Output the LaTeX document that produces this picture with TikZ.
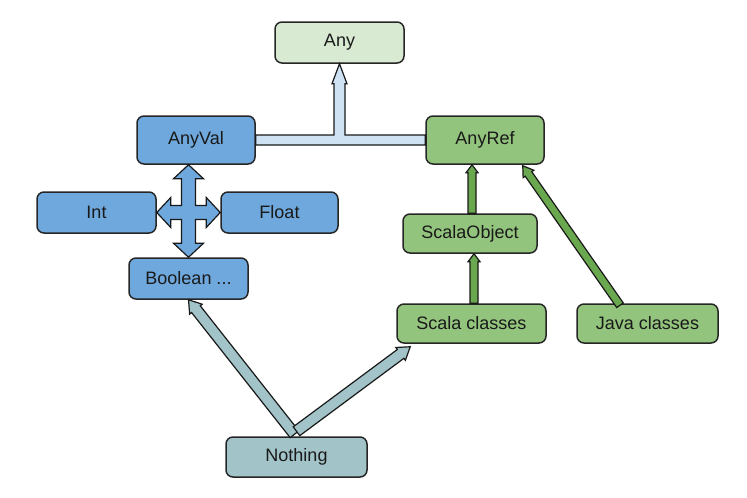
\documentclass[tikz,border=0pt]{standalone}
\usepackage{fontspec}
\setmainfont{Liberation Sans}
\usetikzlibrary{calc}
\definecolor{cblue}{HTML}{6FA8DC}
\definecolor{cgreen}{HTML}{93C47D}
\definecolor{cdgreen}{HTML}{6AA84F}
\definecolor{clgreen}{HTML}{D9EAD3}
\definecolor{clblue}{HTML}{CFE2F3}
\definecolor{ccyan}{HTML}{A2C4C9}
\newcommand\fatarrow[6]{%
  \coordinate (faC) at ($(#2)!#5!(#1)$);
  \draw[arrowline, fill=#6] ($(#1)!#3!90:(#2)$) -- ($(faC)!#3!-90:(#1)$) -- ($(faC)!#4!-90:(#1)$) -- (#2) -- ($(faC)!#4!90:(#1)$) -- ($(faC)!#3!90:(#1)$) -- ($(#1)!#3!-90:(#2)$) -- cycle;
}
\tikzset{
  box/.style={draw=black!85, line width=1.5pt, rounded corners=7pt, inner sep=0pt,
    font=\fontsize{18}{21}\selectfont, text=black!90},
  arrowline/.style={draw=black!90, line width=1.2pt, line join=miter},
}
\begin{document}
\begin{tikzpicture}[x=1pt,y=-1pt]
\useasboundingbox (0,0) rectangle (747,498);
% nodes
\node[box, fill=clgreen, minimum width=129pt, minimum height=41pt] (any) at (339.5,42.5) {Any};
\node[box, fill=cblue, minimum width=118pt, minimum height=48pt] (anyval) at (196,140) {AnyVal};
\node[box, fill=cgreen, minimum width=118pt, minimum height=48pt] (anyref) at (485,140) {AnyRef};
\node[box, fill=cblue, minimum width=119pt, minimum height=41pt] (int) at (96.5,212.5) {Int};
\node[box, fill=cblue, minimum width=117pt, minimum height=41pt] (float) at (279.5,212.5) {Float};
\node[box, fill=cblue, minimum width=119pt, minimum height=41pt] (bool) at (188.5,278.5) {Boolean ...};
\node[box, fill=cgreen, minimum width=134pt, minimum height=39pt] (scalaobj) at (470,233.5) {ScalaObject};
\node[box, fill=cgreen, minimum width=149pt, minimum height=39pt] (scalacls) at (471.5,323.5) {Scala classes};
\node[box, fill=cgreen, minimum width=141pt, minimum height=39pt] (javacls) at (647.5,323.5) {Java classes};
\node[box, fill=ccyan, minimum width=141pt, minimum height=40pt] (nothing) at (296.5,457) {Nothing};
% T connector AnyVal/AnyRef -> Any
\draw[arrowline, fill=clblue] let \p1=(anyval.east), \p2=(anyref.west), \p3=(any.south) in
  (\x1,\y1+5pt) -- (\x3-5.5pt,\y1+5pt) -- (\x3-5.5pt,\y3-20pt) -- (\x3-7.5pt,\y3-20pt) -- (\x3,\y3)
  -- (\x3+7.5pt,\y3-20pt) -- (\x3+5.5pt,\y3-20pt) -- (\x3+5.5pt,\y1+5pt) -- (\x2,\y1+5pt)
  -- (\x2,\y1-5pt) -- (\x1,\y1-5pt) -- cycle;
% four-way arrow
\draw[arrowline, fill=cblue] let \p1=(int.east), \p2=(float.west), \p3=(bool.north), \p4=(anyval.south) in
  (\x3,\y4) -- (\x3+15pt,\y4-14pt) -- (\x3+7pt,\y4-14pt) -- (\x3+7pt,\y1+7pt)
  -- (\x2-14pt,\y1+7pt) -- (\x2-14pt,\y1+15pt) -- (\x2,\y1) -- (\x2-14pt,\y1-15pt) -- (\x2-14pt,\y1-7pt)
  -- (\x3+7pt,\y1-7pt) -- (\x3+7pt,\y3+14pt) -- (\x3+15pt,\y3+14pt) -- (\x3,\y3) -- (\x3-15pt,\y3+14pt)
  -- (\x3-7pt,\y3+14pt) -- (\x3-7pt,\y1-7pt) -- (\x1+14pt,\y1-7pt) -- (\x1+14pt,\y1-15pt) -- (\x1,\y1)
  -- (\x1+14pt,\y1+15pt) -- (\x1+14pt,\y1+7pt) -- (\x3-7pt,\y1+7pt) -- (\x3-7pt,\y4-14pt)
  -- (\x3-15pt,\y4-14pt) -- cycle;
% Nothing arrows
\coordinate (nstart) at ($(nothing.north)+(-2,-2)$);
\coordinate (nstart2) at ($(nothing.north)+(0,-5)$);
\coordinate (sctip) at ($(scalacls.south west)+(14,3)$);
\fatarrow{nstart}{bool.south}{5.5pt}{8pt}{12pt}{ccyan}
\fatarrow{nstart2}{sctip}{5.5pt}{8pt}{12pt}{ccyan}
% green arrows
\coordinate (sostart) at ($(scalaobj.north)+(2,0)$);
\coordinate (sotip) at (sostart |- anyref.south);
\fatarrow{sostart}{sotip}{4pt}{6pt}{8pt}{cdgreen}
\coordinate (scstart) at ($(scalacls.north)+(2.5,0)$);
\coordinate (sctop) at (scstart |- scalaobj.south);
\fatarrow{scstart}{sctop}{4pt}{6pt}{8pt}{cdgreen}
\coordinate (jstart) at ($(javacls.north)+(-27.5,2)$);
\coordinate (jtip) at ($(anyref.south east)+(-22,1)$);
\fatarrow{jstart}{jtip}{4pt}{6.5pt}{10pt}{cdgreen}
\end{tikzpicture}
\end{document}
